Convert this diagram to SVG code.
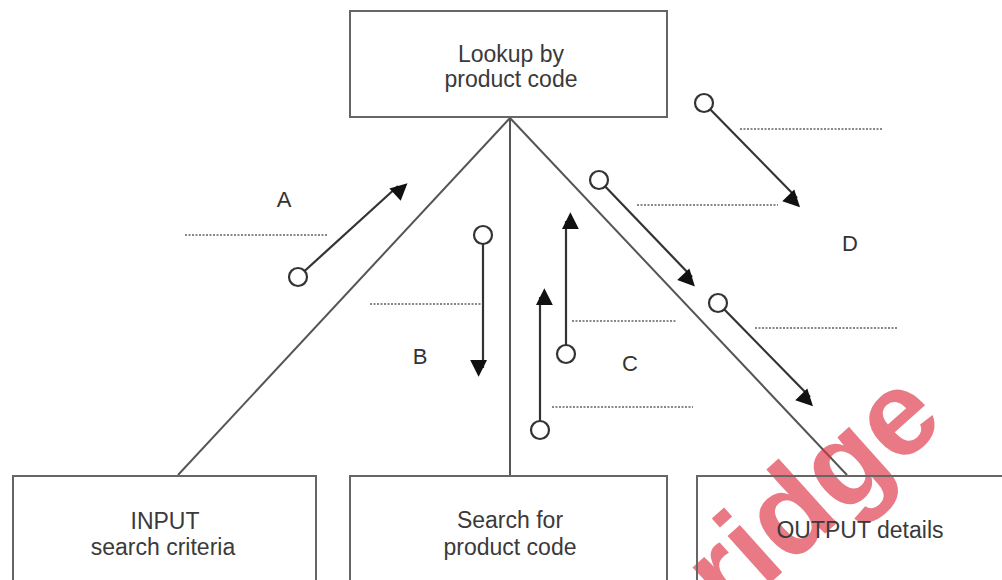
<svg xmlns="http://www.w3.org/2000/svg" width="1002" height="580" viewBox="0 0 1002 580">
<style>
.box{fill:#fff;stroke:#666;stroke-width:2}
.t{font-family:"Liberation Sans",Arial,sans-serif;font-size:23px;fill:#3a3a3a;text-anchor:middle}
.lbl{font-family:"Liberation Sans",Arial,sans-serif;font-size:22px;fill:#333;text-anchor:middle}
.main{stroke:#555;stroke-width:2;fill:none}
.arr{stroke:#333;stroke-width:2.2;fill:none;marker-end:url(#ah)}
.dot{fill:#fff;stroke:#333;stroke-width:2.2}
.dash{stroke:#888;stroke-width:2;stroke-dasharray:2 1.5;fill:none}
.wm{font-family:"Liberation Sans",Arial,sans-serif;font-weight:bold;font-size:120px;fill:#dd3344;opacity:0.65}
</style>
<defs>
<marker id="ah" viewBox="0 0 10 10" refX="10" refY="5" markerWidth="8" markerHeight="8" markerUnits="userSpaceOnUse" orient="auto" overflow="visible">
<path d="M0,0 L10,5 L0,10 z" fill="#111" transform="scale(2.1)" />
</marker>
</defs>
<rect width="1002" height="580" fill="#fff"/>
<g id="connectors">
<line class="main" x1="510" y1="118" x2="178" y2="475"/>
<line class="main" x1="510" y1="118" x2="510" y2="475"/>
<line class="main" x1="510" y1="118" x2="847" y2="475"/>
</g>
<g id="node-lookup"><rect class="box" x="350" y="11" width="317" height="106"/><text class="t" x="511" y="62">Lookup by</text><text class="t" x="511" y="87">product code</text></g>
<g id="node-input"><rect class="box" x="13" y="476" width="303" height="120"/><text class="t" x="165" y="529">INPUT</text><text class="t" x="163" y="555">search criteria</text></g>
<g id="node-search"><rect class="box" x="350" y="476" width="317" height="120"/><text class="t" x="510" y="528">Search for</text><text class="t" x="510" y="555">product code</text></g>
<g id="watermark"><text class="wm" x="729" y="620" transform="rotate(-42 729 620)">ridge</text></g>
<g id="node-output"><rect class="box" x="697" y="476" width="320" height="120" fill-opacity="0"/><text class="t" x="860" y="538">OUTPUT details</text></g>
<g id="labels">
<text class="lbl" x="284" y="207">A</text>
<text class="lbl" x="420" y="364">B</text>
<text class="lbl" x="630" y="371">C</text>
<text class="lbl" x="850" y="251">D</text>
</g>
<g id="blanks">
<line class="dash" x1="185" y1="235" x2="327" y2="235"/>
<line class="dash" x1="370" y1="304" x2="481" y2="304"/>
<line class="dash" x1="572" y1="321" x2="676" y2="321"/>
<line class="dash" x1="552" y1="407" x2="693" y2="407"/>
<line class="dash" x1="740" y1="129" x2="883" y2="129"/>
<line class="dash" x1="637" y1="205" x2="778" y2="205"/>
<line class="dash" x1="755" y1="328" x2="898" y2="328"/>
</g>
<g id="flows">
<line class="arr" x1="298" y1="277" x2="398" y2="186"/><circle class="dot" cx="298" cy="277" r="9"/>
<line class="arr" x1="483" y1="235" x2="483" y2="368"/><circle class="dot" cx="483" cy="235" r="9"/>
<line class="arr" x1="566" y1="354" x2="566" y2="221"/><circle class="dot" cx="566" cy="354" r="9"/>
<line class="arr" x1="540" y1="430" x2="540" y2="297"/><circle class="dot" cx="540" cy="430" r="9"/>
<line class="arr" x1="704" y1="103" x2="797" y2="198"/><circle class="dot" cx="704" cy="103" r="9"/>
<line class="arr" x1="599" y1="180" x2="692" y2="277"/><circle class="dot" cx="599" cy="180" r="9"/>
<line class="arr" x1="718" y1="303" x2="810" y2="397"/><circle class="dot" cx="718" cy="303" r="9"/>
</g>
</svg>
